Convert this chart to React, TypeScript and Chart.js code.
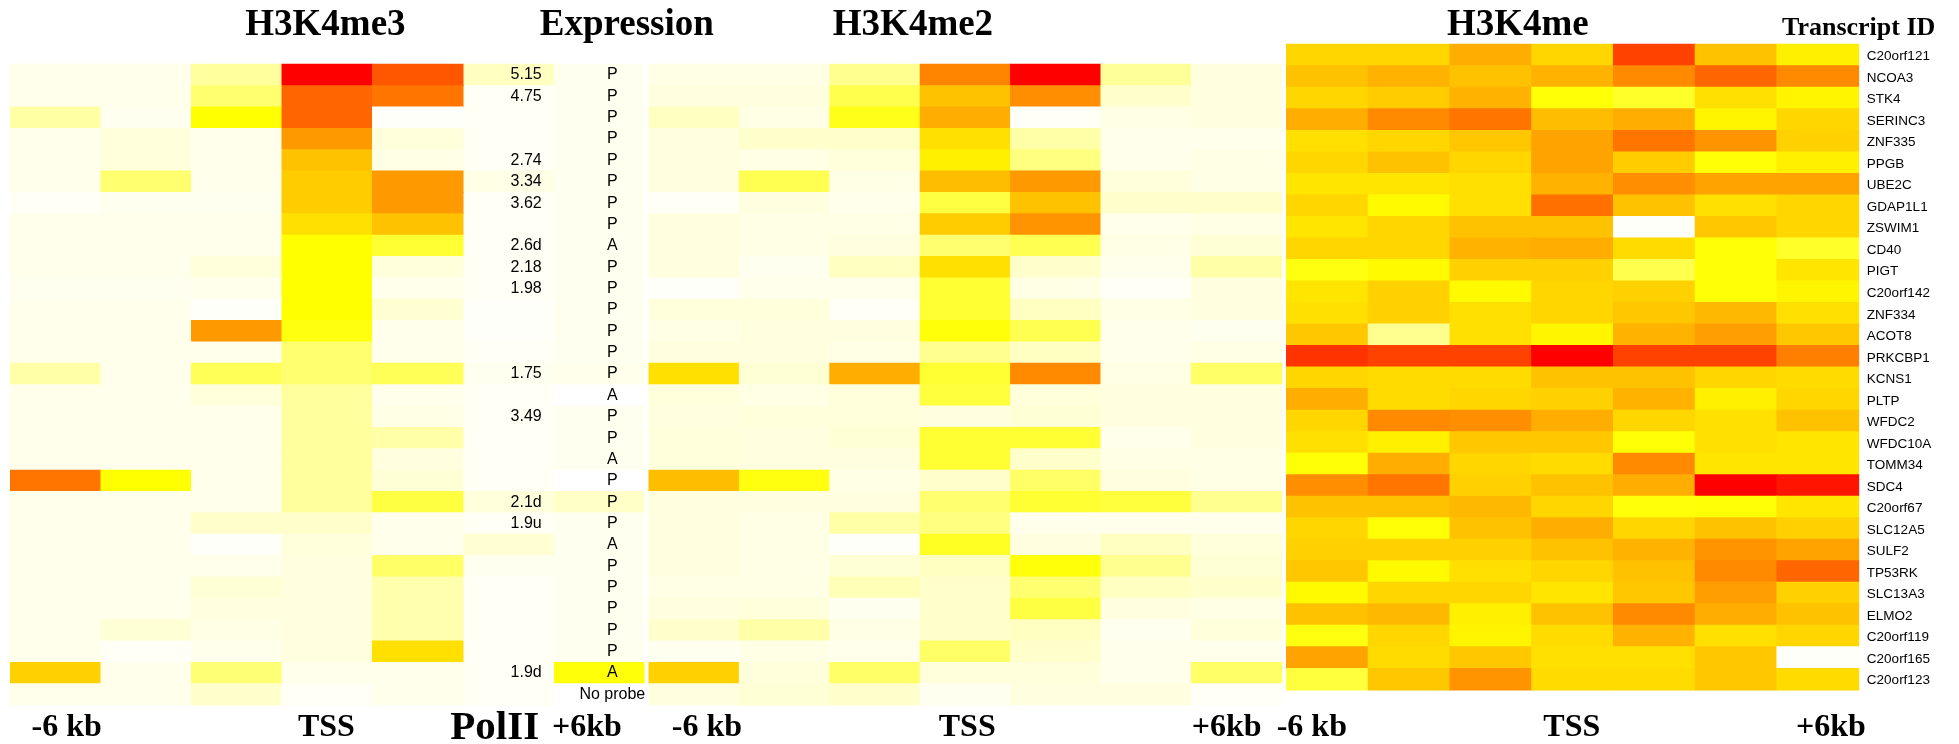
import React, { useEffect, useRef } from "react";
import { Chart, registerables } from "chart.js";

Chart.register(...registerables);

const W = 1959;
const H = 744;

// ---------- data ----------
const transcriptIds = [
  "C20orf121", "NCOA3", "STK4", "SERINC3", "ZNF335", "PPGB", "UBE2C", "GDAP1L1", "ZSWIM1", "CD40",
  "PIGT", "C20orf142", "ZNF334", "ACOT8", "PRKCBP1", "KCNS1", "PLTP", "WFDC2", "WFDC10A", "TOMM34",
  "SDC4", "C20orf67", "SLC12A5", "SULF2", "TP53RK", "SLC13A3", "ELMO2", "C20orf119", "C20orf165", "C20orf123",
];

const polIIValues = [
  "5.15", "4.75", "", "", "2.74", "3.34", "3.62", "", "2.6d", "2.18",
  "1.98", "", "", "", "1.75", "", "3.49", "", "", "",
  "2.1d", "1.9u", "", "", "", "", "", "", "1.9d", "",
];

const expressionCalls = [
  "P", "P", "P", "P", "P", "P", "P", "P", "A", "P",
  "P", "P", "P", "P", "P", "A", "P", "P", "A", "P",
  "P", "P", "A", "P", "P", "P", "P", "P", "A", "No probe",
];

// intensity 0 (white) .. 0.5 (yellow) .. 1 (red)
const polIIShade = [
  0.12, 0.02, 0.02, 0.02, 0.02, 0.05, 0.02, 0.02, 0.02, 0.02,
  0.02, 0.01, 0.01, 0.02, 0.03, 0.02, 0.02, 0.02, 0.02, 0.02,
  0.07, 0.02, 0.09, 0.03, 0.02, 0.02, 0.02, 0.02, 0.02, 0.02,
];

const expressionShade = [
  0.03, 0.03, 0.03, 0.03, 0.03, 0.03, 0.03, 0.03, 0.03, 0.03,
  0.03, 0.03, 0.03, 0.03, 0.04, 0.0, 0.03, 0.03, 0.03, 0.0,
  0.11, 0.03, 0.03, 0.03, 0.03, 0.03, 0.03, 0.03, 0.48, 0.0,
];

const h3k4me3 = [
  [0.04, 0.04, 0.19, 1.0, 0.83],
  [0.04, 0.04, 0.28, 0.8, 0.77],
  [0.18, 0.03, 0.5, 0.8, 0.01],
  [0.04, 0.07, 0.04, 0.7, 0.07],
  [0.04, 0.07, 0.04, 0.62, 0.05],
  [0.04, 0.28, 0.04, 0.6, 0.7],
  [0.02, 0.03, 0.03, 0.6, 0.7],
  [0.04, 0.04, 0.04, 0.56, 0.62],
  [0.04, 0.04, 0.04, 0.5, 0.4],
  [0.04, 0.04, 0.07, 0.5, 0.07],
  [0.03, 0.03, 0.04, 0.5, 0.04],
  [0.04, 0.04, 0.01, 0.5, 0.09],
  [0.04, 0.04, 0.7, 0.47, 0.04],
  [0.04, 0.04, 0.04, 0.28, 0.04],
  [0.17, 0.04, 0.33, 0.28, 0.33],
  [0.04, 0.04, 0.07, 0.19, 0.04],
  [0.04, 0.04, 0.04, 0.19, 0.05],
  [0.04, 0.04, 0.04, 0.19, 0.17],
  [0.04, 0.04, 0.04, 0.19, 0.06],
  [0.77, 0.5, 0.04, 0.19, 0.08],
  [0.04, 0.04, 0.04, 0.19, 0.37],
  [0.04, 0.04, 0.1, 0.1, 0.04],
  [0.04, 0.04, 0.01, 0.07, 0.04],
  [0.04, 0.04, 0.04, 0.06, 0.3],
  [0.04, 0.04, 0.08, 0.06, 0.16],
  [0.04, 0.04, 0.06, 0.06, 0.16],
  [0.04, 0.08, 0.05, 0.06, 0.16],
  [0.04, 0.02, 0.04, 0.06, 0.56],
  [0.59, 0.04, 0.27, 0.04, 0.04],
  [0.04, 0.04, 0.1, 0.02, 0.04],
];

const h3k4me2 = [
  [0.05, 0.05, 0.22, 0.74, 1.0, 0.2, 0.06],
  [0.06, 0.06, 0.35, 0.62, 0.72, 0.1, 0.06],
  [0.12, 0.05, 0.45, 0.66, 0.02, 0.05, 0.06],
  [0.06, 0.1, 0.1, 0.56, 0.17, 0.04, 0.04],
  [0.06, 0.05, 0.07, 0.53, 0.25, 0.04, 0.05],
  [0.06, 0.34, 0.05, 0.63, 0.7, 0.07, 0.05],
  [0.02, 0.06, 0.04, 0.37, 0.62, 0.1, 0.1],
  [0.06, 0.05, 0.05, 0.6, 0.71, 0.04, 0.05],
  [0.06, 0.05, 0.06, 0.28, 0.34, 0.05, 0.08],
  [0.06, 0.03, 0.12, 0.56, 0.1, 0.04, 0.17],
  [0.01, 0.04, 0.04, 0.4, 0.05, 0.02, 0.06],
  [0.07, 0.07, 0.02, 0.4, 0.12, 0.05, 0.06],
  [0.05, 0.06, 0.06, 0.48, 0.34, 0.04, 0.03],
  [0.06, 0.06, 0.05, 0.22, 0.12, 0.04, 0.05],
  [0.56, 0.08, 0.66, 0.4, 0.73, 0.05, 0.3],
  [0.07, 0.05, 0.07, 0.38, 0.07, 0.06, 0.06],
  [0.06, 0.07, 0.07, 0.06, 0.08, 0.06, 0.06],
  [0.07, 0.06, 0.08, 0.4, 0.4, 0.04, 0.06],
  [0.07, 0.06, 0.06, 0.4, 0.1, 0.05, 0.05],
  [0.63, 0.47, 0.05, 0.1, 0.3, 0.06, 0.05],
  [0.06, 0.06, 0.06, 0.28, 0.4, 0.38, 0.22],
  [0.06, 0.05, 0.17, 0.25, 0.04, 0.04, 0.04],
  [0.06, 0.05, 0.01, 0.43, 0.06, 0.12, 0.07],
  [0.06, 0.05, 0.08, 0.12, 0.48, 0.22, 0.08],
  [0.05, 0.05, 0.14, 0.1, 0.28, 0.12, 0.1],
  [0.06, 0.07, 0.03, 0.1, 0.37, 0.06, 0.05],
  [0.1, 0.17, 0.05, 0.1, 0.12, 0.03, 0.07],
  [0.03, 0.05, 0.04, 0.3, 0.1, 0.04, 0.04],
  [0.59, 0.07, 0.3, 0.07, 0.07, 0.04, 0.3],
  [0.06, 0.08, 0.1, 0.03, 0.06, 0.06, 0.02],
];

const h3k4me1 = [
  [0.58, 0.58, 0.66, 0.58, 0.87, 0.62, 0.53],
  [0.62, 0.65, 0.62, 0.65, 0.73, 0.8, 0.73],
  [0.58, 0.6, 0.65, 0.49, 0.42, 0.56, 0.52],
  [0.66, 0.73, 0.77, 0.63, 0.66, 0.52, 0.58],
  [0.56, 0.58, 0.61, 0.68, 0.77, 0.71, 0.59],
  [0.58, 0.62, 0.58, 0.68, 0.6, 0.49, 0.53],
  [0.55, 0.55, 0.56, 0.65, 0.72, 0.68, 0.68],
  [0.58, 0.51, 0.56, 0.78, 0.62, 0.56, 0.58],
  [0.55, 0.58, 0.62, 0.62, 0.01, 0.61, 0.58],
  [0.58, 0.58, 0.65, 0.66, 0.57, 0.49, 0.42],
  [0.47, 0.51, 0.59, 0.59, 0.35, 0.49, 0.55],
  [0.55, 0.59, 0.51, 0.58, 0.59, 0.49, 0.52],
  [0.56, 0.59, 0.56, 0.58, 0.61, 0.64, 0.56],
  [0.61, 0.22, 0.56, 0.52, 0.65, 0.69, 0.61],
  [0.9, 0.87, 0.87, 1.0, 0.87, 0.87, 0.75],
  [0.58, 0.57, 0.57, 0.62, 0.62, 0.58, 0.57],
  [0.66, 0.57, 0.58, 0.59, 0.65, 0.53, 0.58],
  [0.58, 0.73, 0.72, 0.66, 0.58, 0.56, 0.62],
  [0.56, 0.53, 0.61, 0.61, 0.49, 0.56, 0.55],
  [0.49, 0.66, 0.58, 0.57, 0.73, 0.55, 0.55],
  [0.72, 0.77, 0.59, 0.62, 0.66, 1.0, 0.96],
  [0.62, 0.62, 0.64, 0.58, 0.48, 0.49, 0.55],
  [0.58, 0.49, 0.62, 0.66, 0.58, 0.62, 0.59],
  [0.59, 0.59, 0.59, 0.62, 0.65, 0.71, 0.68],
  [0.61, 0.51, 0.56, 0.58, 0.62, 0.73, 0.8],
  [0.51, 0.58, 0.58, 0.55, 0.61, 0.69, 0.59],
  [0.62, 0.64, 0.53, 0.62, 0.73, 0.66, 0.62],
  [0.47, 0.58, 0.52, 0.57, 0.65, 0.56, 0.58],
  [0.68, 0.57, 0.61, 0.56, 0.56, 0.61, 0.01],
  [0.38, 0.61, 0.71, 0.57, 0.57, 0.61, 0.57],
];

const panelTitles = ["H3K4me3", "Expression", "H3K4me2", "H3K4me"];
const idTitle = "Transcript ID";
const positionLabels = ["-6 kb", "TSS", "+6kb"];
const polIILabel = "PolII";

// ---------- layout ----------
const L1 = { left: 10.5, col: 90.5, top: 64.3, row: 21.36 };
const L2 = { left: 649, col: 90.4 };
const L3 = { left: 1286.5, col: 81.74, top: 44.3, row: 21.52 };

function heat(v: number): string {
  const t = Math.max(0, Math.min(1, v));
  if (t <= 0.5) {
    const b = Math.round(255 * (1 - t / 0.5));
    return `rgb(255,255,${b})`;
  }
  const g = Math.round(255 * (1 - (t - 0.5) / 0.5));
  return `rgb(255,${g},0)`;
}

type Cell = { x: [number, number]; y: number; v: number };

function gridCells(rows: number[][], offset = 0): Cell[] {
  const out: Cell[] = [];
  rows.forEach((vals, r) => vals.forEach((v, c) => out.push({ y: r, x: [c + offset, c + offset + 1], v })));
  return out;
}

function makeDataset(cells: Cell[], xId: string, yId: string, thickness: number) {
  return {
    data: cells as any,
    backgroundColor: cells.map((c) => heat(c.v)),
    borderWidth: 0,
    xAxisID: xId,
    yAxisID: yId,
    grouped: false,
    barThickness: thickness,
    inflateAmount: 0.5,
  };
}

const textPlugin = {
  id: "heatTexts",
  afterDatasetsDraw(chart: any) {
    const { ctx } = chart;
    const xA = chart.scales.xA;
    const xB = chart.scales.xB;
    const xC = chart.scales.xC;
    const yA = chart.scales.yA;
    const yC = chart.scales.yC;
    ctx.save();
    ctx.fillStyle = "#000";

    // panel titles
    ctx.font = 'bold 37px "Liberation Serif", "Times New Roman", serif';
    ctx.textAlign = "center";
    ctx.textBaseline = "alphabetic";
    ctx.fillText(panelTitles[0], xA.getPixelForValue(3.48), 35);
    ctx.fillText(panelTitles[1], xA.getPixelForValue(6.81), 35);
    ctx.fillText(panelTitles[2], xB.getPixelForValue(2.92), 35);
    ctx.fillText(panelTitles[3], xC.getPixelForValue(2.83), 35);
    ctx.font = 'bold 26px "Liberation Serif", "Times New Roman", serif';
    ctx.fillText(idTitle, xC.getPixelForValue(7.0), 35);

    // position labels along the bottom
    ctx.font = 'bold 32px "Liberation Serif", "Times New Roman", serif';
    const bottom = 736;
    ctx.fillText(positionLabels[0], xA.getPixelForValue(0.62), bottom);
    ctx.fillText(positionLabels[1], xA.getPixelForValue(3.49), bottom);
    ctx.fillText(positionLabels[2], xA.getPixelForValue(6.37), bottom);
    ctx.fillText(positionLabels[0], xB.getPixelForValue(0.64), bottom);
    ctx.fillText(positionLabels[1], xB.getPixelForValue(3.52), bottom);
    ctx.fillText(positionLabels[2], xB.getPixelForValue(6.39), bottom);
    ctx.fillText(positionLabels[0], xC.getPixelForValue(0.31), bottom);
    ctx.fillText(positionLabels[1], xC.getPixelForValue(3.49), bottom);
    ctx.fillText(positionLabels[2], xC.getPixelForValue(6.66), bottom);
    ctx.font = 'bold 41px "Liberation Serif", "Times New Roman", serif';
    ctx.fillText(polIILabel, xA.getPixelForValue(5.35), 739);

    // PolII values and expression calls
    ctx.font = '16px "Liberation Sans", Arial, sans-serif';
    ctx.textBaseline = "middle";
    polIIValues.forEach((t, r) => {
      if (!t) return;
      ctx.textAlign = "right";
      ctx.fillText(t, xA.getPixelForValue(5.87), yA.getPixelForValue(r));
    });
    expressionCalls.forEach((t, r) => {
      ctx.textAlign = "center";
      ctx.fillText(t, xA.getPixelForValue(6.65), yA.getPixelForValue(r));
    });

    // transcript ids
    ctx.font = '13.5px "Liberation Sans", Arial, sans-serif';
    ctx.textAlign = "left";
    transcriptIds.forEach((t, r) => {
      ctx.fillText(t, xC.getPixelForValue(7.1), yC.getPixelForValue(r) + 1.5);
    });
    ctx.restore();
  },
};

export default function App() {
  const ref = useRef<HTMLCanvasElement | null>(null);

  useEffect(() => {
    if (!ref.current) return;
    const p1 = gridCells(h3k4me3, 0);
    const pol = gridCells(polIIShade.map((v) => [v]), 5);
    const expr = gridCells(expressionShade.map((v) => [v]), 6);
    const p2 = gridCells(h3k4me2, 0);
    const p3 = gridCells(h3k4me1, 0);

    const yAmin = -0.5 - L1.top / L1.row;
    const yCmin = -0.5 - L3.top / L3.row;

    const hidden = { display: false, offset: false, bounds: "data", grid: { offset: false } };

    const chart = new Chart(ref.current, {
      type: "bar",
      data: {
        datasets: [
          makeDataset(p1, "xA", "yA", L1.row),
          makeDataset(pol, "xA", "yA", L1.row),
          makeDataset(expr, "xA", "yA", L1.row),
          makeDataset(p2, "xB", "yA", L1.row),
          makeDataset(p3, "xC", "yC", L3.row),
        ] as any,
      },
      options: {
        indexAxis: "y",
        responsive: false,
        animation: false,
        events: [],
        layout: { padding: 0 },
        plugins: { legend: { display: false }, tooltip: { enabled: false }, title: { display: false } },
        scales: {
          xA: { type: "linear", axis: "x", ...hidden, min: -L1.left / L1.col, max: (W - L1.left) / L1.col },
          xB: { type: "linear", axis: "x", ...hidden, min: -L2.left / L2.col, max: (W - L2.left) / L2.col },
          xC: { type: "linear", axis: "x", ...hidden, min: -L3.left / L3.col, max: (W - L3.left) / L3.col },
          yA: { type: "linear", axis: "y", ...hidden, reverse: true, min: yAmin, max: yAmin + H / L1.row },
          yC: { type: "linear", axis: "y", ...hidden, reverse: true, min: yCmin, max: yCmin + H / L3.row },
        } as any,
      },
      plugins: [textPlugin],
    });
    return () => chart.destroy();
  }, []);

  return (
    <div style={{ position: "fixed", left: 0, top: 0, width: W, height: H, background: "#fff" }}>
      <canvas ref={ref} width={W} height={H} style={{ width: W, height: H, display: "block" }} />
    </div>
  );
}
